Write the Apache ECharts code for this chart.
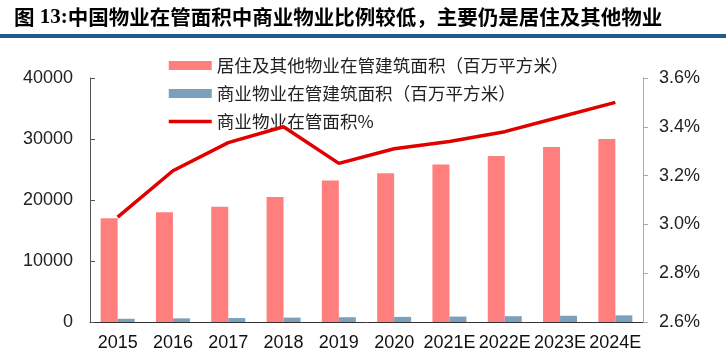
<!DOCTYPE html>
<html>
<head>
<meta charset="utf-8">
<script src="https://cdn.jsdelivr.net/npm/echarts@6/dist/echarts.min.js"></script>
<style>
html,body{margin:0;padding:0;background:#fff;}
#c{width:726px;height:363px;}
</style>
</head>
<body>
<div id="c"></div>
<script>
const titlePrefix = '图';
const titleNumber = ' 13:';
const titleBody = '中国物业在管面积中商业物业比例较低，主要仍是居住及其他物业';
const categories = ['2015','2016','2017','2018','2019','2020','2021E','2022E','2023E','2024E'];
const residentialName = '居住及其他物业在管建筑面积（百万平方米）';
const commercialName = '商业物业在管建筑面积（百万平方米）';
const shareName = '商业物业在管面积%';
const residentialArea = [17000, 18000, 18900, 20500, 23200, 24400, 25800, 27200, 28700, 30000];
const commercialArea = [530, 600, 650, 720, 780, 840, 890, 950, 1020, 1090];
const commercialShare = [3.03, 3.22, 3.335, 3.40, 3.25, 3.31, 3.34, 3.38, 3.44, 3.50];

const chart = echarts.init(document.getElementById('c'), null, {renderer:'canvas'});
chart.setOption({
  animation:false,
  backgroundColor:'#fff',
  graphic:[
    {type:'text', left:14, top:7, style:{
      text:'{a|' + titlePrefix + '}{n|' + titleNumber + '}{a|' + titleBody + '}',
      rich:{
        a:{fontSize:20.5, fontWeight:'bold', fill:'#000', fontFamily:'"Noto Sans CJK SC", sans-serif'},
        n:{fontSize:21, fontWeight:'bold', fill:'#000', fontFamily:'"Liberation Serif", "Times New Roman", serif'}
      }
    }},
    {type:'rect', shape:{x:0,y:34,width:726,height:4}, style:{fill:'#235a8c'}}
  ],
  grid:{left:90, right:83, top:78, bottom:41, containLabel:false},
  legend:{
    orient:'vertical', left:162, top:51, itemWidth:43, itemHeight:9, itemGap:9,
    textStyle:{fontSize:17.6, color:'#222', fontFamily:'"Noto Sans CJK SC", sans-serif', lineHeight:19},
    data:[
      {name:residentialName, icon:'rect'},
      {name:commercialName, icon:'rect'},
      {name:shareName, itemStyle:{opacity:0}, lineStyle:{width:3.5, color:'#e00000'}}
    ]
  },
  xAxis:{
    type:'category', data:categories, boundaryGap:true,
    axisLine:{lineStyle:{color:'#333', width:1}},
    axisTick:{inside:true, length:4, lineStyle:{color:'#333'}},
    axisLabel:{fontSize:18, color:'#111', fontFamily:'"Liberation Sans", Arial, sans-serif', margin:12, interval:0}
  },
  yAxis:[
    {type:'value', min:0, max:40000, interval:10000,
     splitLine:{show:false},
     axisLine:{show:true, lineStyle:{color:'#555'}},
     axisTick:{show:true, inside:true, length:5, lineStyle:{color:'#555'}},
     axisLabel:{fontSize:18, color:'#222', fontFamily:'"Liberation Sans", Arial, sans-serif', margin:17,
       formatter:function(v){return String(v);}}
    },
    {type:'value', min:2.6, max:3.6, interval:0.2, position:'right',
     splitLine:{show:false},
     axisLine:{show:true, lineStyle:{color:'#aaa'}},
     axisTick:{show:true, inside:false, length:5, lineStyle:{color:'#aaa'}},
     axisLabel:{fontSize:18, color:'#222', fontFamily:'"Liberation Sans", Arial, sans-serif', margin:16,
       formatter:function(v){return v.toFixed(1)+'%';}}
    }
  ],
  series:[
    {name:residentialName, type:'bar', data:residentialArea, barWidth:17, barGap:'0%',
     itemStyle:{color:'#ff7f7f'}},
    {name:commercialName, type:'bar', data:commercialArea, barWidth:17,
     itemStyle:{color:'#7ba0bc'}},
    {name:shareName, type:'line', yAxisIndex:1, data:commercialShare, symbol:'none', z:5,
     lineStyle:{color:'#e00000', width:3.5}, itemStyle:{color:'#e00000'}}
  ]
});
</script>
</body>
</html>
